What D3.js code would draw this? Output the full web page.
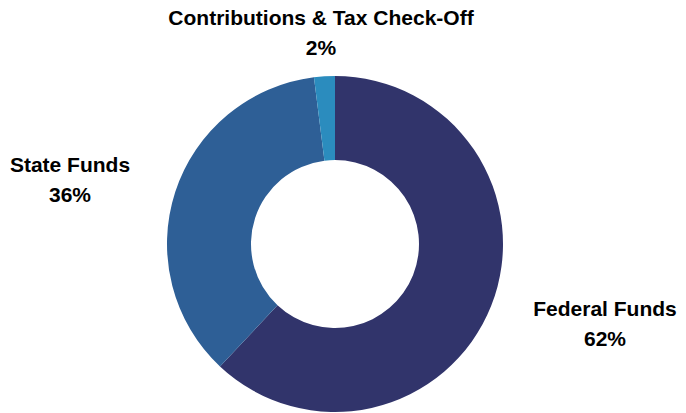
<!DOCTYPE html>
<html>
<head>
<meta charset="utf-8">
<script src="https://cdn.jsdelivr.net/npm/d3@7"></script>
<style>
  html, body { margin: 0; padding: 0; background: #fff; }
  text { font-family: "Liberation Sans", Arial, sans-serif; font-weight: bold; fill: #000; }
</style>
</head>
<body>
<div id="chart"></div>
<script>
// data
const categories = ["Federal Funds", "State Funds", "Contributions & Tax Check-Off"];
const shares = [62, 36, 2];
const colors = ["#31346b", "#2e5f96", "#2b8cbe"];

const width = 686, height = 413;
const cx = 335, cy = 244;
const outerR = 168, innerR = 84;

const svg = d3.select("#chart")
  .append("svg")
    .attr("width", width)
    .attr("height", height);

const g = svg.append("g")
  .attr("transform", `translate(${cx},${cy})`);

const data = categories.map((c, i) => ({ name: c, value: shares[i], color: colors[i] }));

const pie = d3.pie()
  .value(d => d.value)
  .sort(null);

const arc = d3.arc()
  .innerRadius(innerR)
  .outerRadius(outerR);

const arcs = pie(data);

g.selectAll("path.slice")
  .data(arcs)
  .enter()
  .append("path")
    .attr("class", "slice")
    .attr("d", arc)
    .attr("fill", d => d.data.color);

// label anchor points (relative to centre), placed beside each slice
const labelPos = arc => {
  const a = (arc.startAngle + arc.endAngle) / 2;
  if (arc.data.name === "Federal Funds") return [270, 72];
  if (arc.data.name === "State Funds") return [-265, -72];
  return [-14, -219];
};

const fs = 21;
const labels = g.selectAll("g.label")
  .data(arcs)
  .enter()
  .append("g")
    .attr("class", "label")
    .attr("transform", d => `translate(${labelPos(d)})`);

labels.append("text")
  .attr("text-anchor", "middle")
  .style("font-size", fs + "px")
  .text(d => d.data.name);

labels.append("text")
  .attr("text-anchor", "middle")
  .attr("y", 30)
  .style("font-size", fs + "px")
  .text(d => d.data.value + "%");
</script>
</body>
</html>
